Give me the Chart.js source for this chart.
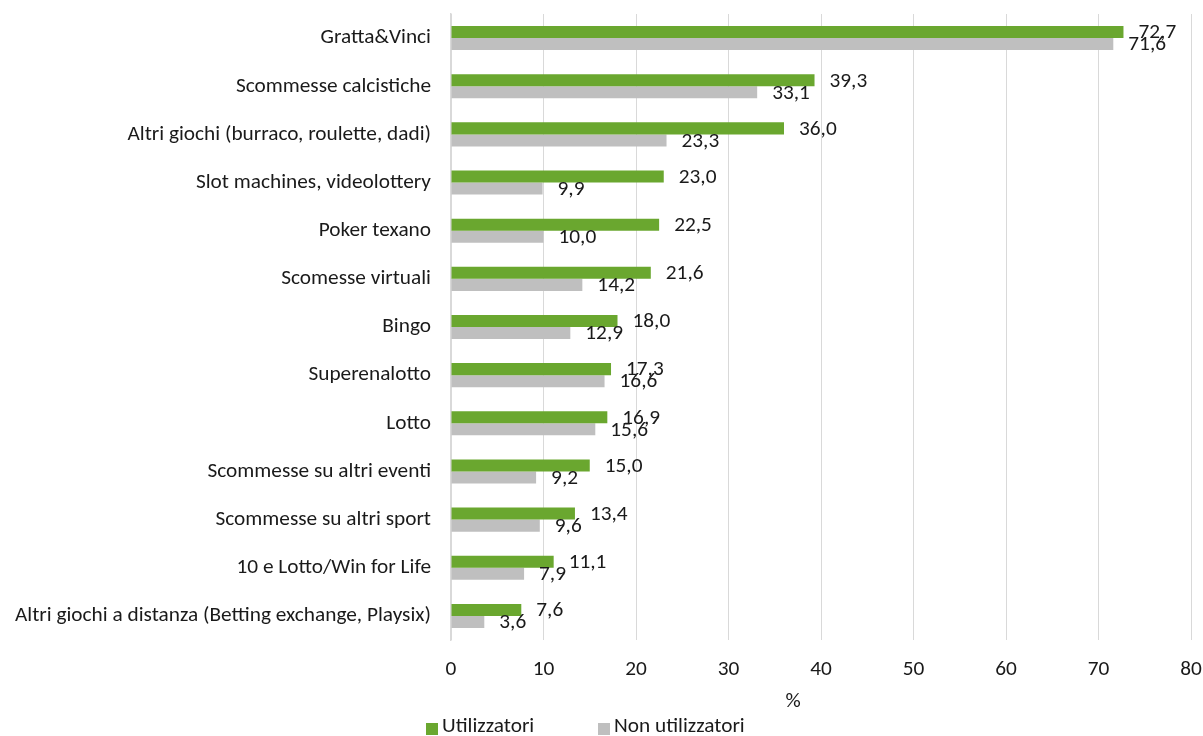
<!DOCTYPE html>
<html>
<head>
<meta charset="utf-8">
<script src="https://cdn.jsdelivr.net/npm/chart.js@4.4.1/dist/chart.umd.min.js"></script>
<style>
  html, body { margin: 0; padding: 0; background: #ffffff; }
  #wrap { width: 1203px; height: 736px; position: relative; }
</style>
</head>
<body>
<div id="wrap"><canvas id="c"></canvas></div>
<script>
const categories = [
  "Gratta&Vinci",
  "Scommesse calcistiche",
  "Altri giochi (burraco, roulette, dadi)",
  "Slot machines, videolottery",
  "Poker texano",
  "Scomesse virtuali",
  "Bingo",
  "Superenalotto",
  "Lotto",
  "Scommesse su altri eventi",
  "Scommesse su altri sport",
  "10 e Lotto/Win for Life",
  "Altri giochi a distanza (Betting exchange, Playsix)"
];
const utilizzatori =    [72.7, 39.3, 36.0, 23.0, 22.5, 21.6, 18.0, 17.3, 16.9, 15.0, 13.4, 11.1, 7.6];
const nonUtilizzatori = [71.6, 33.1, 23.3,  9.9, 10.0, 14.2, 12.9, 16.6, 15.6,  9.2,  9.6,  7.9, 3.6];
const seriesNames = ["Utilizzatori", "Non utilizzatori"];
const axisTitle = "%";
const xMin = 0, xMax = 80, xStep = 10;

const FONT = "Carlito, Lato, 'Liberation Sans', sans-serif";
const FSIZE = 21.3;
const GREEN = "#6AA72F";
const GREY = "#BFBFBF";
const TEXT = "#1a1a1a";

Chart.defaults.font.family = FONT;
Chart.defaults.font.size = FSIZE;
Chart.defaults.color = TEXT;

const fmt = v => v.toFixed(1).replace('.', ',');

const valueLabels = {
  id: 'valueLabels',
  afterDatasetsDraw(chart) {
    const ctx = chart.ctx;
    ctx.save();
    ctx.font = FSIZE + "px " + FONT;
    ctx.fillStyle = TEXT;
    ctx.textAlign = 'left';
    ctx.textBaseline = 'middle';
    chart.data.datasets.forEach((ds, di) => {
      const meta = chart.getDatasetMeta(di);
      meta.data.forEach((bar, i) => {
        ctx.fillText(fmt(ds.data[i]), bar.x + 15, bar.y + 1);
      });
    });
    ctx.restore();
  }
};

const bottomTexts = {
  id: 'bottomTexts',
  afterDraw(chart) {
    const ctx = chart.ctx;
    ctx.save();
    ctx.font = FSIZE + "px " + FONT;
    ctx.fillStyle = TEXT;
    ctx.textBaseline = 'middle';
    ctx.textAlign = 'center';
    ctx.fillText(axisTitle, 793, 702);
    ctx.textAlign = 'left';
    const colors = [GREEN, GREY];
    const starts = [426, 598];
    seriesNames.forEach((name, i) => {
      ctx.fillStyle = colors[i];
      ctx.fillRect(starts[i], 723, 12, 12);
      ctx.fillStyle = TEXT;
      ctx.fillText(name, starts[i] + 16, 727);
    });
    ctx.restore();
  }
};

new Chart(document.getElementById('c'), {
  type: 'bar',
  data: {
    labels: categories,
    datasets: [
      { label: seriesNames[0], data: utilizzatori, backgroundColor: GREEN, borderWidth: 0,
        categoryPercentage: 0.5, barPercentage: 1.0 },
      { label: seriesNames[1], data: nonUtilizzatori, backgroundColor: GREY, borderWidth: 0,
        categoryPercentage: 0.5, barPercentage: 1.0 }
    ]
  },
  options: {
    indexAxis: 'y',
    responsive: true,
    maintainAspectRatio: false,
    animation: false,
    layout: { padding: { top: 14, right: 12, left: 0, bottom: 0 } },
    plugins: {
      legend: { display: false },
      tooltip: { enabled: false }
    },
    scales: {
      x: {
        min: xMin, max: xMax,
        ticks: { stepSize: xStep, padding: 17, color: TEXT, font: { size: FSIZE } },
        grid: { color: '#D9D9D9', lineWidth: 1, drawTicks: false },
        border: { display: false },
        afterFit(scale) { scale.height = 96; scale.paddingLeft = 0; scale.paddingRight = 0; }
      },
      y: {
        ticks: { padding: 20, color: TEXT, font: { size: FSIZE }, autoSkip: false },
        grid: { display: false, drawTicks: false },
        border: { display: true, color: '#D9D9D9', width: 1.5 },
        afterFit(scale) { scale.width = 451; scale.paddingTop = 0; scale.paddingBottom = 0; }
      }
    }
  },
  plugins: [valueLabels, bottomTexts]
});
</script>
</body>
</html>
